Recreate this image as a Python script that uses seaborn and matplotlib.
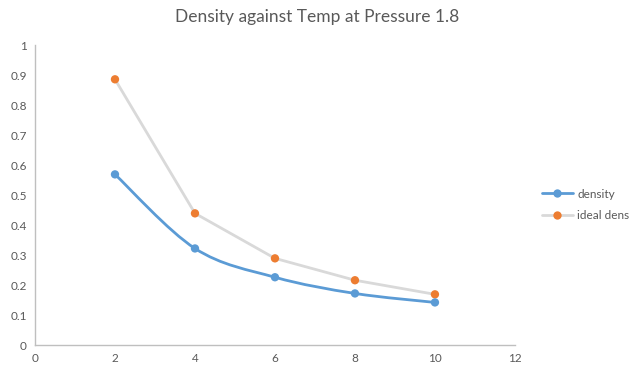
import matplotlib
matplotlib.use("Agg")
import matplotlib.pyplot as plt
import seaborn as sns
import numpy as np
import pandas as pd
from matplotlib.path import Path
from matplotlib.patches import PathPatch
from matplotlib.lines import Line2D

temp = [2, 4, 6, 8, 10]
density = [0.569, 0.322, 0.226, 0.172, 0.142]
ideal_dens = [0.886, 0.439, 0.289, 0.216, 0.169]

blue = "#5b9bd5"
orange = "#ed7d31"
grey_line = "#d9d9d9"
text_col = "#595959"

sns.set_theme(style="white")
plt.rcParams["font.family"] = ["Lato", "DejaVu Sans"]

df = pd.DataFrame({"temp": temp, "density": density, "ideal": ideal_dens})

fig = plt.figure(figsize=(6.34, 3.76), dpi=100)
ax = fig.add_axes([0.0552, 0.0824, 0.757, 0.7976])


def smooth_path(xs, ys):
    # excel-like smoothed line: cubic bezier segments through every point
    pts = np.column_stack([xs, ys]).astype(float)
    verts = [pts[0]]
    codes = [Path.MOVETO]
    n = len(pts)
    for i in range(n - 1):
        p0 = pts[i - 1] if i > 0 else pts[i]
        p1, p2 = pts[i], pts[i + 1]
        p3 = pts[i + 2] if i + 2 < n else pts[i + 1]
        c1 = p1 + (p2 - p0) / 6
        c2 = p2 - (p3 - p1) / 6
        verts += [c1, c2, p2]
        codes += [Path.CURVE4] * 3
    return Path(verts, codes)


# ideal dens: grey straight line, orange markers
sns.lineplot(data=df, x="temp", y="ideal", color=grey_line, linewidth=2,
             ax=ax, legend=False)
sns.scatterplot(data=df, x="temp", y="ideal", color=orange, s=36,
                edgecolor="none", ax=ax, zorder=4, legend=False)

# density: smoothed blue line
ax.add_patch(PathPatch(smooth_path(df.temp, df.density), facecolor="none",
                       edgecolor=blue, linewidth=2, zorder=3))
sns.scatterplot(data=df, x="temp", y="density", color=blue, s=36,
                edgecolor="none", ax=ax, zorder=4, legend=False)

ax.set_xlim(0, 12)
ax.set_ylim(0, 1)
ax.set_xticks(range(0, 13, 2))
ax.set_yticks(np.arange(0, 1.01, 0.1))
ax.set_yticklabels(["0"] + [f"{v:.1f}" for v in np.arange(0.1, 0.95, 0.1)] + ["1"])
ax.set_xlabel("")
ax.set_ylabel("")
ax.tick_params(length=0, labelsize=8.5, colors=text_col, pad=6)

for side in ["top", "right"]:
    ax.spines[side].set_visible(False)
for side in ["left", "bottom"]:
    ax.spines[side].set_color("#bfbfbf")
    ax.spines[side].set_linewidth(1)

fig.suptitle("Density against Temp at Pressure 1.8", x=0.5, y=0.975,
             fontsize=12.5, color=text_col)

handles = [
    Line2D([], [], color=blue, lw=2, marker="o", markersize=6,
           markeredgewidth=0),
    Line2D([], [], color=grey_line, lw=2, marker="o", markersize=6,
           markerfacecolor=orange, markeredgewidth=0),
]
fig.legend(handles, ["density", "ideal dens"], loc="center left",
           bbox_to_anchor=(0.838, 0.455), frameon=False, fontsize=8.5,
           labelcolor=text_col, handlelength=2.6, handletextpad=0.4,
           labelspacing=0.9)

fig.savefig("out.png", dpi=100)
